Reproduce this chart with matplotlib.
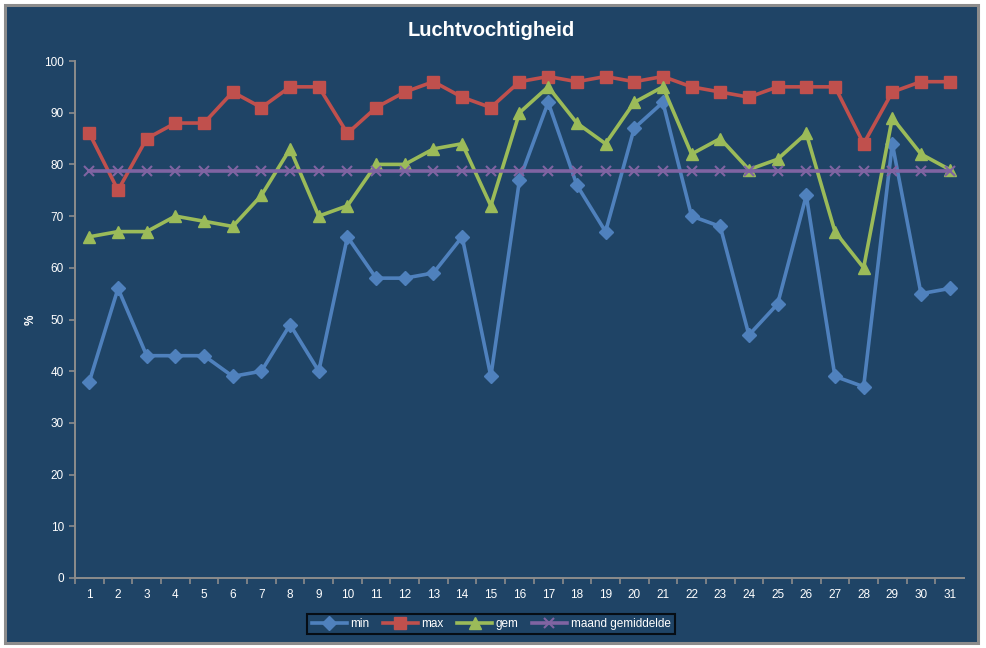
import matplotlib
matplotlib.use("Agg")
import matplotlib.pyplot as plt
from matplotlib.patches import Rectangle

days = list(range(1, 32))
v_min = [38, 56, 43, 43, 43, 39, 40, 49, 40, 66, 58, 58, 59, 66, 39, 77, 92, 76, 67, 87,
         92, 70, 68, 47, 53, 74, 39, 37, 84, 55, 56]
v_max = [86, 75, 85, 88, 88, 94, 91, 95, 95, 86, 91, 94, 96, 93, 91, 96, 97, 96, 97, 96,
         97, 95, 94, 93, 95, 95, 95, 84, 94, 96, 96]
v_gem = [66, 67, 67, 70, 69, 68, 74, 83, 70, 72, 80, 80, 83, 84, 72, 90, 95, 88, 84, 92,
         95, 82, 85, 79, 81, 86, 67, 60, 89, 82, 79]
v_maand = [78.7] * 31
y_ticks = [0, 10, 20, 30, 40, 50, 60, 70, 80, 90, 100]

plt.rcParams['font.family'] = ['Liberation Sans', 'DejaVu Sans']
BG = '#1F4466'
W, H = 987, 648
fig = plt.figure(figsize=(W / 100, H / 100), dpi=100)
fig.patch.set_facecolor('white')
fig.patches.append(Rectangle((5 / W, 1 - 643 / H), 973 / W, 638 / H, transform=fig.transFigure,
                             facecolor=BG, edgecolor='#8C8C8C', linewidth=2.2, zorder=-10))

ax = fig.add_axes([75 / W, 1 - 578 / H, 889 / W, 517 / H])
ax.set_facecolor(BG)
ax.set_zorder(1)

lw = 2.6
ax.plot(days, v_min, color='#4F81BD', lw=lw, marker='D', ms=7, label='min')
ax.plot(days, v_max, color='#C0504D', lw=lw, marker='s', ms=8, label='max')
ax.plot(days, v_gem, color='#9BBB59', lw=lw, marker='^', ms=8.5, label='gem')
ax.plot(days, v_maand, color='#8064A2', lw=lw, marker='x', ms=7, mew=1.5, label='maand gemiddelde')

ax.set_xlim(0.5, 31.5)
ax.set_ylim(0, 100)
ax.set_yticks(y_ticks)
ax.set_xticks(days)
ax.set_xticks([d + 0.5 for d in range(0, 31)], minor=True)
ax.tick_params(axis='x', which='major', length=0, labelsize=8.5, colors='white', pad=8)
ax.tick_params(axis='x', which='minor', length=4, color='#8C8C8C', width=1.2)
ax.tick_params(axis='y', length=4, color='#8C8C8C', width=1.2, labelsize=8.5, labelcolor='white', pad=4)
for s in ['top', 'right']:
    ax.spines[s].set_visible(False)
for s in ['left', 'bottom']:
    ax.spines[s].set_color('#8C8C8C')
    ax.spines[s].set_linewidth(1.4)

fig.text(31 / W, 1 - 320 / H, '%', color='white', fontsize=8.5, fontweight='bold',
         rotation=90, ha='center', va='center')
fig.text(491 / W, 1 - 31 / H, 'Luchtvochtigheid', color='white', fontsize=14.5,
         fontweight='bold', ha='center', va='center')

leg = ax.legend(loc='center', bbox_to_anchor=(491 / W, 1 - 624 / H), bbox_transform=fig.transFigure,
                ncol=4, frameon=True, fontsize=8.5, handlelength=3.0, columnspacing=1.1,
                handletextpad=0.3, borderpad=0.35, fancybox=False, labelcolor='white')
leg.get_frame().set_facecolor(BG)
leg.get_frame().set_edgecolor('black')
leg.get_frame().set_linewidth(1.5)

fig.savefig('out.png', dpi=100, facecolor=fig.get_facecolor())
